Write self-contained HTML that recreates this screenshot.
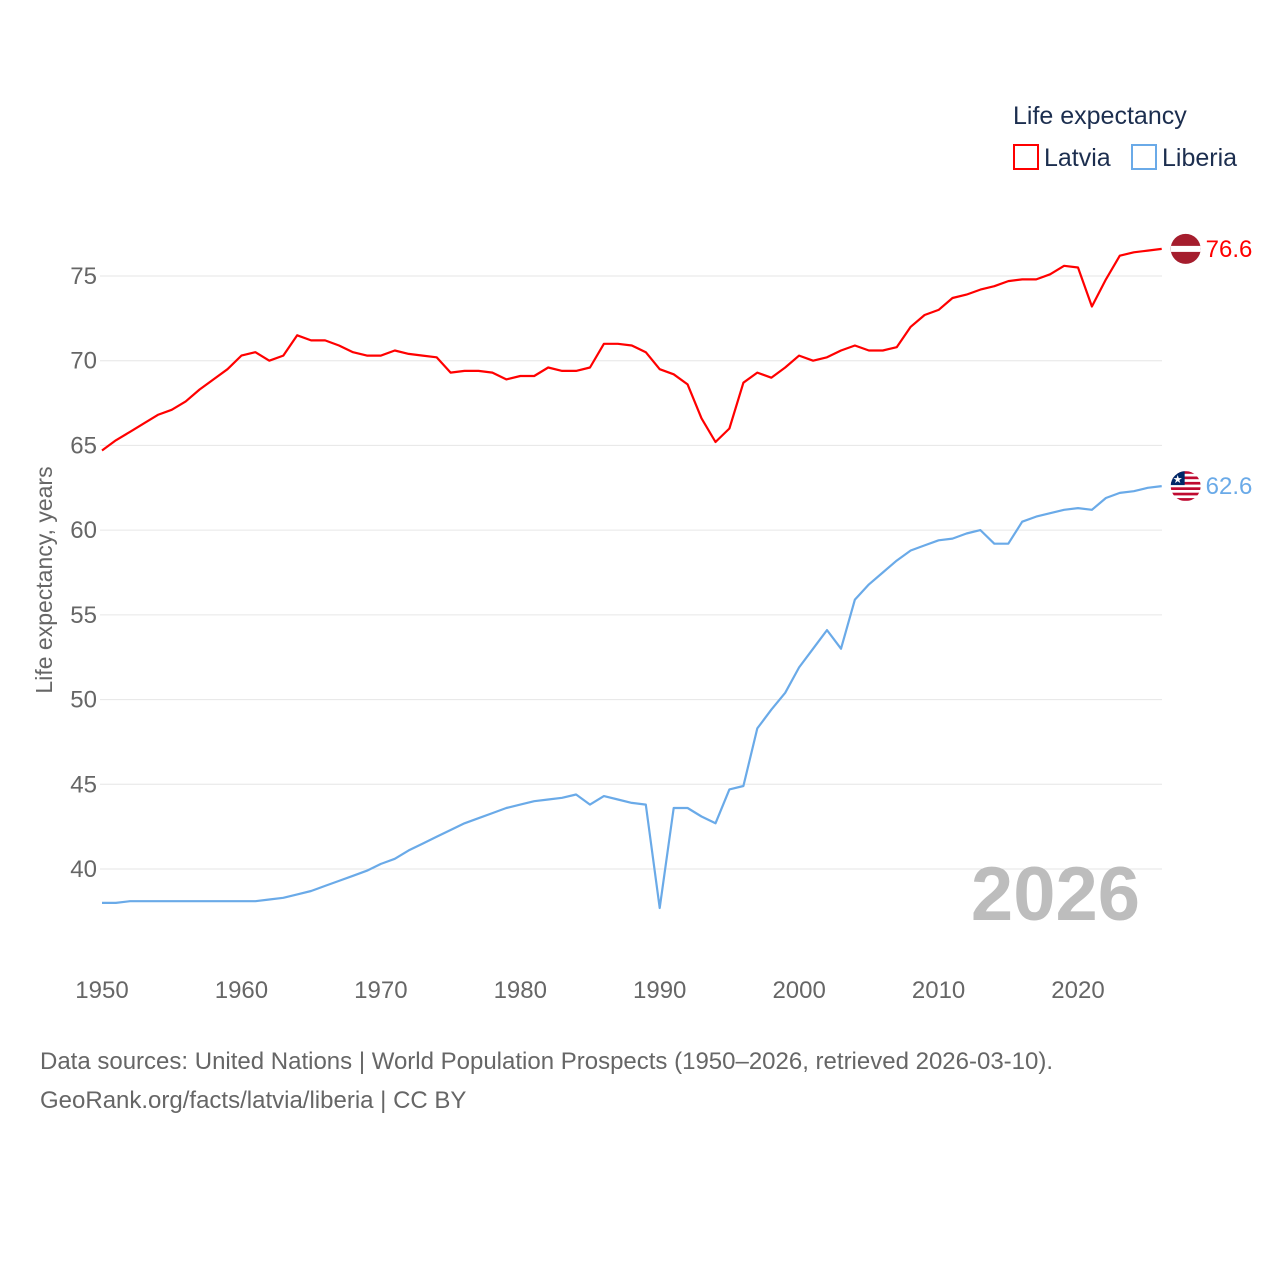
<!DOCTYPE html>
<html><head><meta charset="utf-8">
<style>
html,body{margin:0;padding:0;background:#fff;}
svg{display:block;font-family:"Liberation Sans",sans-serif;}
</style></head>
<body>
<svg id="chart" width="1280" height="1280" viewBox="0 0 1280 1280">
  <g id="grid"></g>
  <g id="yticks"></g>
  <g id="xticks"></g>
  <text x="52" y="580" transform="rotate(-90 52 580)" text-anchor="middle" font-size="23" fill="#666">Life expectancy, years</text>
  <text x="1140" y="920" text-anchor="end" font-size="76" font-weight="bold" fill="#bdbdbd">2026</text>
  <g id="series"></g>
  <g>
    <text x="1013" y="124" font-size="25" fill="#1c2e4f">Life expectancy</text>
    <g>
      <rect x="1014" y="145" width="24" height="24" fill="none" stroke="#f00" stroke-width="2"/>
      <text x="1044" y="166" font-size="25" fill="#1c2e4f">Latvia</text>
    </g>
    <g>
      <rect x="1132" y="145" width="24" height="24" fill="none" stroke="#6aaae8" stroke-width="2"/>
      <text x="1162" y="166" font-size="25" fill="#1c2e4f">Liberia</text>
    </g>
  </g>
  <text x="40" y="1069" font-size="24" fill="#666">Data sources: United Nations | World Population Prospects (1950–2026, retrieved 2026-03-10).</text>
  <text x="40" y="1108" font-size="24" fill="#666">GeoRank.org/facts/latvia/liberia | CC BY</text>
</svg>
<script>
const years = [];
for (let y = 1950; y <= 2026; y++) years.push(y);
const latvia = [64.7,65.3,65.8,66.3,66.8,67.1,67.6,68.3,68.9,69.5,70.3,70.5,70.0,70.3,71.5,71.2,71.2,70.9,70.5,70.3,70.3,70.6,70.4,70.3,70.2,69.3,69.4,69.4,69.3,68.9,69.1,69.1,69.6,69.4,69.4,69.6,71.0,71.0,70.9,70.5,69.5,69.2,68.6,66.6,65.2,66.0,68.7,69.3,69.0,69.6,70.3,70.0,70.2,70.6,70.9,70.6,70.6,70.8,72.0,72.7,73.0,73.7,73.9,74.2,74.4,74.7,74.8,74.8,75.1,75.6,75.5,73.2,74.8,76.2,76.4,76.5,76.6];
const liberia = [38.0,38.0,38.1,38.1,38.1,38.1,38.1,38.1,38.1,38.1,38.1,38.1,38.2,38.3,38.5,38.7,39.0,39.3,39.6,39.9,40.3,40.6,41.1,41.5,41.9,42.3,42.7,43.0,43.3,43.6,43.8,44.0,44.1,44.2,44.4,43.8,44.3,44.1,43.9,43.8,37.7,43.6,43.6,43.1,42.7,44.7,44.9,48.3,49.4,50.4,51.9,53.0,54.1,53.0,55.9,56.8,57.5,58.2,58.8,59.1,59.4,59.5,59.8,60.0,59.2,59.2,60.5,60.8,61.0,61.2,61.3,61.2,61.9,62.2,62.3,62.5,62.6];
const yTicks = [40,45,50,55,60,65,70,75];
const xTicks = [1950,1960,1970,1980,1990,2000,2010,2020];

const NS = "http://www.w3.org/2000/svg";
const X = v => 102 + (v - 1950) * (1078 - 102) / 70;
const Y = v => 276 + (75 - v) * (869 - 276) / 35;
function mk(tag, attrs, parent) {
  const e = document.createElementNS(NS, tag);
  for (const k in attrs) e.setAttribute(k, attrs[k]);
  parent.appendChild(e); return e;
}
const grid = document.getElementById('grid'), yt = document.getElementById('yticks'), xt = document.getElementById('xticks'), ser = document.getElementById('series');
yTicks.forEach(t => {
  const l = mk('line', {x1: 100, x2: 1162, y1: Y(t), y2: Y(t), stroke: '#e6e6e6', 'stroke-width': 1}, grid);
  
  
  const tx = mk('text', {x: 97, y: Y(t) + 8, 'text-anchor': 'end', 'font-size': 24, fill: '#666'}, yt);
  tx.textContent = t;
  
  
});
xTicks.forEach(t => {
  const tx = mk('text', {x: X(t), y: 998, 'text-anchor': 'middle', 'font-size': 24, fill: '#666'}, xt);
  tx.textContent = t;
  
  
});
function drawSeries(vals, color, name) {
  const d = vals.map((v, i) => (i ? 'L' : 'M') + X(years[i]).toFixed(1) + ' ' + Y(v).toFixed(1)).join(' ');
  const p = mk('path', {d: d, fill: 'none', stroke: color, 'stroke-width': 2.2, 'stroke-linejoin': 'round'}, ser);
  
  
  const last = vals[vals.length - 1], lx = X(years[years.length - 1]), ly = Y(last);
  const lbl = mk('text', {x: lx + 44, y: ly + 8, 'font-size': 24, fill: color}, ser);
  lbl.textContent = last.toFixed(1);
  
  
  return {lx, ly};
}
const a = drawSeries(latvia, '#ff0000', 'latvia');
const b = drawSeries(liberia, '#6aaae8', 'liberia');
// Latvia flag
const fa = mk('g', {}, ser);


mk('clipPath', {id: 'cpa'}, fa).appendChild(Object.assign(document.createElementNS(NS, 'circle'), {}));
fa.querySelector('circle').setAttribute('cx', a.lx + 24);
fa.querySelector('circle').setAttribute('cy', a.ly);
fa.querySelector('circle').setAttribute('r', 15);
mk('circle', {cx: a.lx + 24, cy: a.ly, r: 15, fill: '#a51d2d'}, fa);
mk('rect', {x: a.lx + 9, y: a.ly - 3, width: 30, height: 6, fill: '#fff', 'clip-path': 'url(#cpa)'}, fa);
// Liberia flag
const fb = mk('g', {}, ser);


const cpb = mk('clipPath', {id: 'cpb'}, fb);
mk('circle', {cx: b.lx + 24, cy: b.ly, r: 15}, cpb);
const gb = mk('g', {'clip-path': 'url(#cpb)'}, fb);
mk('rect', {x: b.lx + 9, y: b.ly - 15, width: 30, height: 30, fill: '#fff'}, gb);
for (let i = 0; i < 6; i++) mk('rect', {x: b.lx + 9, y: b.ly - 15 + i * 5.4, width: 30, height: 2.7, fill: '#bf0a30'}, gb);
mk('rect', {x: b.lx + 9, y: b.ly - 15, width: 14, height: 14, fill: '#002868'}, gb);
const st = mk('text', {x: b.lx + 16, y: b.ly - 3, 'text-anchor': 'middle', 'font-size': 11, fill: '#fff'}, gb);
st.textContent = '★';
</script>
</body></html>
